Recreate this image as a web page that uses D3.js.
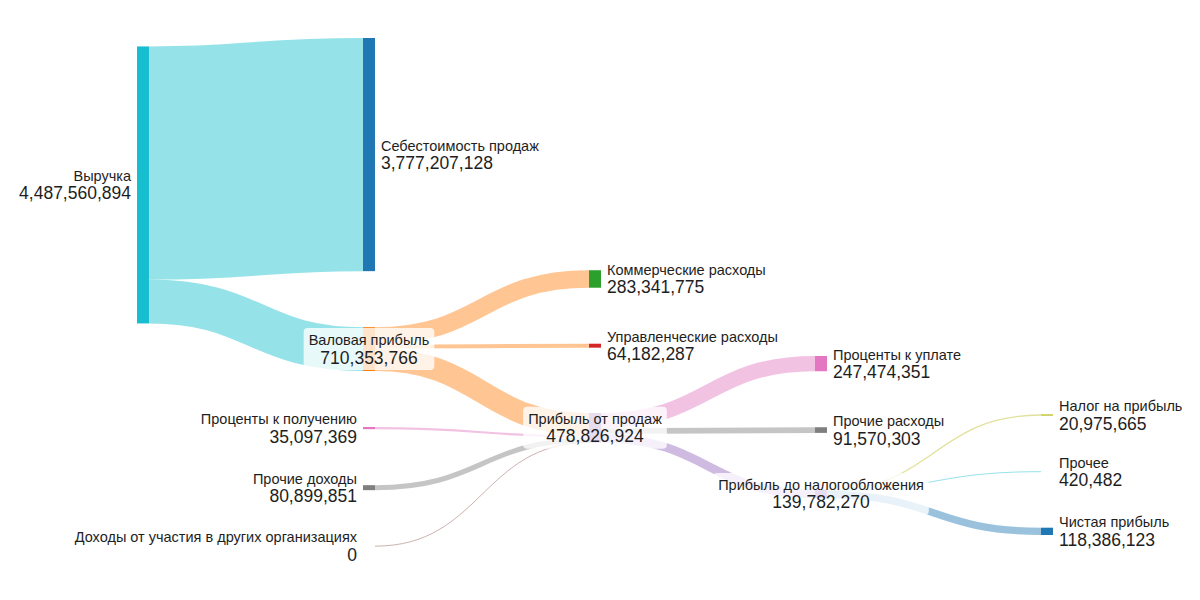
<!DOCTYPE html>
<html><head><meta charset="utf-8">
<script src="https://cdn.jsdelivr.net/npm/d3@7"></script>
<style>
body{margin:0;background:#fff}
svg{display:block}
text{font-family:"Liberation Sans",Arial,sans-serif;fill:#1e1e1e}
</style>
</head><body>
<svg id="chart" width="1200" height="600"></svg>
<script>
// ---------------- DATA ----------------
const nodeNames = [
  "Выручка",
  "Себестоимость продаж",
  "Валовая прибыль",
  "Коммерческие расходы",
  "Управленческие расходы",
  "Прибыль от продаж",
  "Проценты к получению",
  "Прочие доходы",
  "Доходы от участия в других организациях",
  "Проценты к уплате",
  "Прочие расходы",
  "Прибыль до налогообложения",
  "Налог на прибыль",
  "Прочее",
  "Чистая прибыль"
];
const linkSources = [0, 0, 2, 2, 2, 6, 7, 8, 5, 5, 5, 11, 11, 11];
const linkTargets = [1, 2, 3, 4, 5, 5, 5, 5, 9, 10, 11, 12, 13, 14];
const linkValues = [
  3777207128, 710353766,
  283341775, 64182287, 362829704,
  35097369, 80899851, 0,
  247474351, 91570303, 139782270,
  20975665, 420482, 118386123
];

// ---------------- STYLE ----------------
const nodeColors = {
  "Выручка": "#17becf",
  "Себестоимость продаж": "#1f77b4",
  "Валовая прибыль": "#ff7f0e",
  "Коммерческие расходы": "#2ca02c",
  "Управленческие расходы": "#d62728",
  "Прибыль от продаж": "#9467bd",
  "Проценты к получению": "#e377c2",
  "Прочие доходы": "#7f7f7f",
  "Доходы от участия в других организациях": "#8c564b",
  "Проценты к уплате": "#e377c2",
  "Прочие расходы": "#7f7f7f",
  "Прибыль до налогообложения": "#9467bd",
  "Налог на прибыль": "#bcbd22",
  "Прочее": "#17becf",
  "Чистая прибыль": "#1f77b4"
};
const targetColoredSources = new Set(["Прибыль от продаж", "Прибыль до налогообложения"]);
const LAYOUT = {x0: 137, x1: 1053, y0: 38, y1: 535, dx: 12, py: 56, iterations: 3, maxNodeHeight: 277};

// ---------------- SANKEY LAYOUT (d3-sankey style relaxation, centre alignment, fixed node order) ----------------
function sankeyLayout(names, src, tgt, vals, o) {
  const nodes = names.map((name, i) => ({name, index: i, sourceLinks: [], targetLinks: []}));
  const links = vals.map((value, i) => ({index: i, value, source: nodes[src[i]], target: nodes[tgt[i]]}));
  for (const l of links) { l.source.sourceLinks.push(l); l.target.targetLinks.push(l); }
  for (const n of nodes) n.value = Math.max(d3.sum(n.sourceLinks, l => l.value), d3.sum(n.targetLinks, l => l.value));

  let current = new Set(nodes), next = new Set(), depth = 0;
  while (current.size) {
    for (const n of current) { n.depth = depth; for (const l of n.sourceLinks) next.add(l.target); }
    depth++; current = next; next = new Set();
  }
  const nCols = d3.max(nodes, n => n.depth) + 1;
  const xScale = d3.scaleLinear().domain([0, nCols - 1]).range([o.x0, o.x1 - o.dx]);
  const columns = Array.from({length: nCols}, () => []);
  for (const n of nodes) {
    const layer = n.targetLinks.length ? n.depth
      : n.sourceLinks.length ? d3.min(n.sourceLinks, l => l.target.depth) - 1 : 0;
    n.layer = layer; n.x0 = xScale(layer); n.x1 = n.x0 + o.dx;
    columns[layer].push(n);
  }
  const size = d3.scaleLinear().domain([0, d3.max(nodes, n => n.value)]).range([0, o.maxNodeHeight]);
  const py = o.py;
  for (const l of links) l.width = size(l.value);

  for (const col of columns) {
    let y = o.y0;
    for (const n of col) { n.y0 = y; n.y1 = y + size(n.value); y = n.y1 + py; }
    y = (o.y1 - y + py) / (col.length + 1);
    col.forEach((n, i) => { n.y0 += y * (i + 1); n.y1 += y * (i + 1); });
  }
  function targetTop(s, t) {
    let y = s.y0 - (s.sourceLinks.length - 1) * py / 2;
    for (const l of s.sourceLinks) { if (l.target === t) break; y += l.width + py; }
    for (const l of t.targetLinks) { if (l.source === s) break; y -= l.width; }
    return y;
  }
  function sourceTop(s, t) {
    let y = t.y0 - (t.targetLinks.length - 1) * py / 2;
    for (const l of t.targetLinks) { if (l.source === s) break; y += l.width + py; }
    for (const l of s.sourceLinks) { if (l.target === t) break; y -= l.width; }
    return y;
  }
  function bottomToTop(col, y, i, a) {
    for (; i >= 0; --i) { const n = col[i]; const dy = (n.y1 - y) * a; if (dy > 1e-6) { n.y0 -= dy; n.y1 -= dy; } y = n.y0 - py; }
  }
  function topToBottom(col, y, i, a) {
    for (; i < col.length; ++i) { const n = col[i]; const dy = (y - n.y0) * a; if (dy > 1e-6) { n.y0 += dy; n.y1 += dy; } y = n.y1 + py; }
  }
  function resolve(col, a) {
    const i = col.length >> 1, s = col[i];
    bottomToTop(col, s.y0 - py, i - 1, a);
    topToBottom(col, s.y1 + py, i + 1, a);
    bottomToTop(col, o.y1, col.length - 1, a);
    topToBottom(col, o.y0, 0, a);
  }
  for (let it = 0; it < o.iterations; ++it) {
    const alpha = Math.pow(0.99, it);
    const beta = Math.max(1 - alpha, (it + 1) / o.iterations);
    for (let i = columns.length - 2; i >= 0; --i) {
      const col = columns[i];
      for (const s of col) {
        let y = 0, w = 0;
        for (const l of s.sourceLinks) { const v = l.value * (l.target.layer - s.layer); y += sourceTop(s, l.target) * v; w += v; }
        if (!(w > 0)) continue;
        const dy = (y / w - s.y0) * alpha; s.y0 += dy; s.y1 += dy;
      }
      resolve(col, beta);
    }
    for (let i = 1; i < columns.length; ++i) {
      const col = columns[i];
      for (const t of col) {
        let y = 0, w = 0;
        for (const l of t.targetLinks) { const v = l.value * (t.layer - l.source.layer); y += targetTop(l.source, t) * v; w += v; }
        if (!(w > 0)) continue;
        const dy = (y / w - t.y0) * alpha; t.y0 += dy; t.y1 += dy;
      }
      resolve(col, beta);
    }
  }
  for (const n of nodes) {
    let a = n.y0, b = n.y0;
    for (const l of n.sourceLinks) { l.y0 = a + l.width / 2; a += l.width; }
    for (const l of n.targetLinks) { l.y1 = b + l.width / 2; b += l.width; }
  }
  return {nodes, links};
}

// ---------------- RENDER ----------------
const graph = sankeyLayout(nodeNames, linkSources, linkTargets, linkValues, LAYOUT);
const svg = d3.select("#chart");
const fmt = d3.format(",");

const linkPath = d3.linkHorizontal().source(d => [d.source.x1, d.y0]).target(d => [d.target.x0, d.y1]);
svg.append("g").attr("fill", "none")
  .selectAll("path").data(graph.links).join("path")
  .attr("d", linkPath)
  .attr("stroke", d => targetColoredSources.has(d.source.name) ? nodeColors[d.target.name] : nodeColors[d.source.name])
  .attr("stroke-opacity", 0.45)
  .attr("stroke-width", d => Math.max(1, d.width));

svg.append("g").selectAll("rect").data(graph.nodes).join("rect")
  .attr("x", d => d.x0).attr("y", d => d.y0)
  .attr("width", d => d.x1 - d.x0).attr("height", d => d.y1 - d.y0)
  .attr("fill", d => nodeColors[d.name]);

const labels = svg.append("g").selectAll("g").data(graph.nodes).join("g")
  .attr("transform", d => {
    const cy = (d.y0 + d.y1) / 2;
    const mid = d.sourceLinks.length && d.targetLinks.length;
    const x = mid ? (d.x0 + d.x1) / 2 : (!d.targetLinks.length ? d.x0 - 6 : d.x1 + 6);
    return `translate(${x},${cy})`;
  });
labels.each(function(d) {
  const g = d3.select(this);
  const mid = d.sourceLinks.length && d.targetLinks.length;
  const anchor = mid ? "middle" : (!d.targetLinks.length ? "end" : "start");
  const box = mid ? g.append("rect").attr("fill", "#fff").attr("fill-opacity", 0.78).attr("rx", 4) : null;
  const t1 = g.append("text").attr("text-anchor", anchor).attr("y", -4).attr("font-size", 14.5).text(d.name);
  const t2 = g.append("text").attr("text-anchor", anchor).attr("y", 14.5).attr("font-size", 17.5).text(fmt(d.value));
  if (box) {
    const w = Math.max(t1.node().getComputedTextLength(), t2.node().getComputedTextLength()) + 10;
    box.attr("x", -w / 2).attr("y", -21).attr("width", w).attr("height", 42);
  }
});
</script>
</body></html>
